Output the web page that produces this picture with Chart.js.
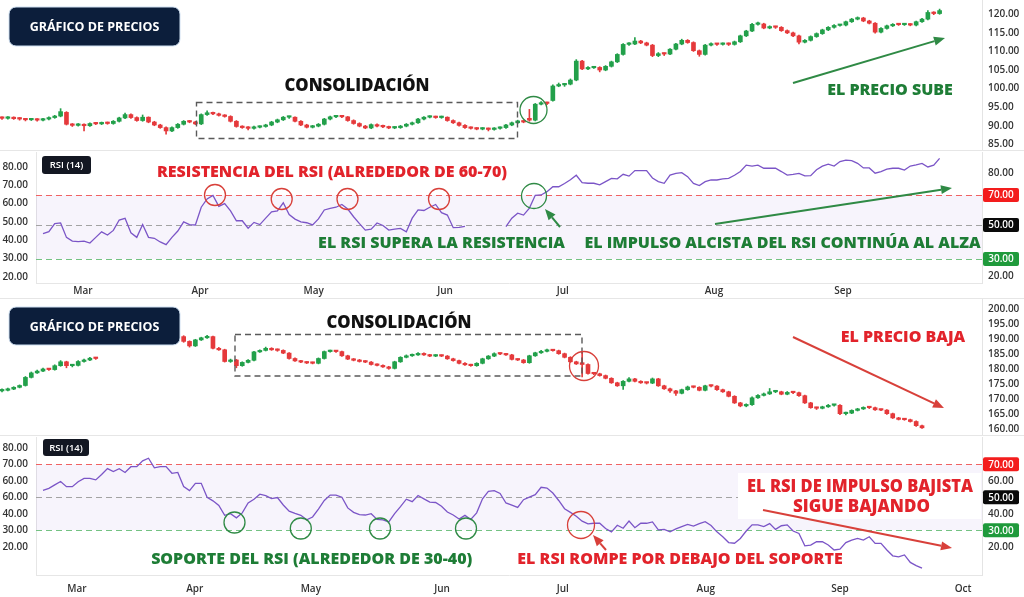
<!DOCTYPE html>
<html>
<head>
<meta charset="utf-8">
<script src="https://cdn.jsdelivr.net/npm/chart.js@4.4.1/dist/chart.umd.min.js"></script>
<style>
html, body { margin: 0; padding: 0; background: #fff; }
#wrap { position: relative; width: 1024px; height: 597px; overflow: hidden; }
canvas { position: absolute; left: 0; }
</style>
</head>
<body>
<div id="wrap">
  <canvas id="priceTop" width="1024" height="150" style="top:0px"></canvas>
  <canvas id="rsiTop" width="1024" height="148" style="top:150px"></canvas>
  <canvas id="priceBot" width="1024" height="137" style="top:298px"></canvas>
  <canvas id="rsiBot" width="1024" height="162" style="top:435px"></canvas>
</div>
<script>
// ---- data: candles are [open, high, low, close], one per trading day ----
const topCandles = [
  [92.1,92.4,91.7,92.0],[92.0,92.5,91.8,92.2],[92.2,92.4,91.7,91.9],[91.9,92.2,91.5,91.8],[91.8,92.0,91.3,91.6],
  [91.6,92.0,91.4,91.7],[91.7,91.9,91.2,91.5],[91.5,92.0,91.3,91.8],[91.8,92.4,91.6,92.2],[92.2,92.8,92.0,92.6],
  [92.6,94.6,92.4,93.8],[93.6,93.8,90.2,90.4],[90.4,90.6,89.8,90.1],[90.1,90.6,89.9,90.3],[90.3,90.5,88.6,90.0],
  [90.0,90.8,89.8,90.6],[90.6,90.9,90.3,90.5],[90.5,91.0,90.3,90.8],[90.8,91.0,90.4,90.6],[90.6,91.4,90.4,91.2],
  [91.2,92.3,91.0,92.1],[92.1,93.4,91.9,93.0],[93.0,93.2,92.0,92.2],[92.2,92.4,91.2,91.4],[91.4,92.9,91.2,92.3],
  [92.3,92.4,90.8,91.0],[91.0,91.2,90.0,90.2],[90.2,90.4,89.3,89.5],[89.5,89.7,87.7,88.6],[88.6,89.7,88.4,89.5],
  [89.5,90.6,89.3,90.4],[90.4,91.4,90.2,91.2],[91.2,91.4,90.8,91.0],[91.0,91.2,90.3,90.5],[90.5,93.2,90.3,93.0],
  [93.0,94.0,92.8,93.5],[93.5,93.7,93.0,93.2],[93.2,93.4,92.6,92.8],[92.8,93.0,92.3,92.5],[92.5,92.7,91.0,91.2],
  [91.2,91.4,89.6,89.8],[89.8,90.0,89.3,89.5],[89.5,89.8,88.9,89.3],[89.3,89.9,89.1,89.6],[89.6,90.0,89.4,89.8],
  [89.8,90.4,89.6,90.2],[90.2,91.2,90.0,91.0],[91.0,91.8,90.8,91.6],[91.6,92.5,91.4,92.3],[92.3,92.6,92.0,92.3],
  [92.3,92.4,91.0,91.2],[91.2,91.4,90.0,90.2],[90.2,90.4,89.4,89.6],[89.6,90.1,89.4,89.9],[89.9,90.6,89.7,90.4],
  [90.4,92.0,90.2,91.8],[91.8,92.6,91.6,92.4],[92.4,92.7,92.2,92.5],[92.5,92.7,92.2,92.4],[92.4,92.5,91.2,91.4],
  [91.4,91.6,90.4,90.6],[90.6,90.8,89.7,89.9],[89.9,90.1,89.2,89.4],[89.4,90.5,89.2,90.3],[90.3,90.5,89.7,89.9],
  [89.9,90.2,89.5,89.7],[89.7,89.9,89.2,89.4],[89.4,89.8,89.2,89.5],[89.5,90.1,89.3,89.9],[89.9,90.6,89.7,90.4],
  [90.4,91.0,90.2,90.8],[90.8,92.0,90.6,91.8],[91.8,92.5,91.6,92.3],[92.3,92.7,92.1,92.4],[92.4,92.6,92.0,92.2],
  [92.2,92.6,92.0,92.3],[92.3,92.4,91.2,91.4],[91.4,91.6,90.6,90.8],[90.8,91.0,89.9,90.1],[90.1,90.3,89.3,89.5],
  [89.5,89.7,89.1,89.3],[89.3,89.5,88.9,89.1],[89.1,89.5,88.9,89.2],[89.2,89.4,88.6,89.0],[89.0,89.5,88.8,89.3],
  [89.3,89.7,89.1,89.5],[89.5,90.4,89.3,90.2],[90.2,91.0,90.0,90.8],[90.8,91.5,90.6,91.3],[91.3,91.5,90.8,91.0],
  [92.0,94.4,91.2,91.5],[91.5,96.0,91.3,95.8],[95.8,96.5,95.6,96.2],[96.2,96.4,95.7,96.0],[96.8,101.0,96.6,100.7],
  [100.7,101.5,100.5,101.0],[101.0,101.4,100.6,101.2],[101.2,102.6,101.0,102.3],[102.3,107.8,102.1,107.4],[107.4,107.6,105.1,105.3],
  [105.3,105.9,105.1,105.6],[105.6,106.0,105.4,105.7],[105.7,105.9,104.5,105.0],[105.0,106.2,104.8,106.0],[106.0,107.4,105.8,107.2],
  [107.2,109.4,107.0,109.2],[109.2,112.1,109.0,111.9],[111.9,112.4,111.6,112.0],[112.0,113.7,111.8,112.8],[112.8,113.0,112.1,112.3],
  [112.3,112.5,111.5,111.7],[111.7,111.9,108.6,108.9],[108.9,109.7,108.6,109.4],[109.4,109.6,108.9,109.3],[109.3,110.8,109.1,110.6],
  [110.6,112.2,110.4,112.0],[112.0,113.3,111.8,113.0],[113.0,113.2,112.2,112.4],[112.4,112.6,110.0,110.2],[110.2,110.4,108.7,109.2],
  [109.2,111.9,109.0,111.7],[111.7,112.3,111.5,112.0],[112.0,112.2,111.6,111.9],[111.9,112.3,111.7,112.1],[112.1,112.3,111.6,111.9],
  [111.9,112.8,111.7,112.6],[112.6,114.4,112.4,114.2],[114.2,115.7,114.0,115.5],[115.5,117.6,115.3,117.3],[117.3,117.9,117.1,117.4],
  [117.4,117.6,116.1,116.3],[116.3,116.9,116.1,116.6],[116.6,116.8,116.2,116.5],[116.5,116.7,115.4,115.6],[115.6,115.8,114.8,115.0],
  [115.0,115.2,114.0,114.2],[114.2,114.4,112.0,112.5],[112.5,113.2,112.3,113.0],[113.0,114.2,112.8,114.0],[114.0,115.0,113.8,114.8],
  [114.8,116.0,114.6,115.8],[115.8,116.7,115.6,116.5],[116.5,117.2,116.3,117.0],[117.0,117.3,116.8,117.1],[117.1,118.2,116.9,118.0],
  [118.0,118.9,117.8,118.7],[118.7,119.3,118.5,119.0],[119.0,119.2,118.0,118.2],[118.2,118.4,117.4,117.6],[117.6,117.8,114.9,115.2],
  [115.2,116.4,115.0,116.2],[116.2,117.1,116.0,116.9],[116.9,117.5,116.7,117.3],[117.3,117.5,117.0,117.2],[117.2,117.5,117.0,117.3],
  [117.3,117.5,116.9,117.1],[117.1,118.2,116.9,118.0],[118.0,118.9,117.8,118.7],[118.7,121.0,118.5,120.5],[120.5,120.7,119.9,120.2],
  [120.2,121.4,120.0,121.0]
];

const botCandles = [
  [172.8,173.5,172.5,173.0],[173.0,173.7,172.8,173.4],[173.4,174.2,173.2,174.0],[174.0,174.8,173.8,174.6],[174.6,177.6,174.4,177.3],
  [177.3,179.1,177.1,178.8],[178.8,179.7,178.6,179.4],[179.4,180.4,179.2,180.1],[180.1,180.3,179.6,179.9],[179.9,181.5,179.7,181.2],
  [181.2,182.9,181.0,182.5],[182.5,182.7,180.5,181.2],[181.2,181.6,180.8,181.3],[181.3,182.9,181.1,182.6],[182.6,183.4,182.4,183.1],
  [183.1,184.0,182.9,183.7],[183.7,184.0,183.3,183.6],
  null,null,null,null,null,null,null,null,null,null,null,null,null,null,
  [190.9,191.2,189.0,189.3],[189.3,189.5,187.4,187.8],[187.8,190.0,187.6,189.8],[189.8,190.7,189.6,190.5],[190.5,191.3,190.3,190.9],
  [190.9,191.1,186.8,187.0],[187.0,187.3,186.3,186.5],[186.5,186.7,182.4,182.6],[182.6,183.4,182.3,183.1],[183.1,183.3,180.5,181.2],
  [181.2,182.5,181.0,182.3],[182.3,183.2,182.1,183.0],[183.0,186.0,182.8,185.8],[185.8,186.5,185.6,186.3],[186.3,187.4,186.1,187.0],
  [187.0,187.2,186.3,186.5],[186.5,186.8,186.0,186.3],[186.3,186.5,185.2,185.4],[185.4,185.6,183.4,183.6],[183.6,183.8,182.6,182.8],
  [182.8,183.0,182.2,182.4],[182.4,182.6,181.9,182.1],[182.1,182.4,181.8,182.0],[182.0,183.8,181.8,183.6],[183.6,186.1,183.4,185.9],
  [185.9,186.4,185.7,186.0],[186.0,186.3,185.6,185.9],[185.9,186.1,184.3,184.5],[184.5,184.7,183.2,183.4],[183.4,183.6,182.8,183.0],
  [183.0,183.3,182.4,182.6],[182.6,182.9,182.2,182.4],[182.4,182.6,181.4,181.6],[181.6,181.8,181.1,181.3],[181.3,181.5,180.6,180.8],
  [180.8,181.0,180.0,180.3],[180.3,182.7,180.1,182.5],[182.5,184.2,182.3,184.0],[184.0,184.8,183.8,184.5],[184.5,185.1,184.3,184.8],
  [184.8,185.6,184.6,185.3],[185.3,185.5,184.6,184.8],[184.8,185.0,184.2,184.4],[184.4,184.9,184.2,184.6],[184.6,184.8,184.2,184.4],
  [184.4,184.6,183.3,183.5],[183.5,183.7,182.7,182.9],[182.9,183.1,181.8,182.0],[182.0,182.2,181.3,181.5],[181.5,181.7,181.0,181.2],
  [181.2,182.2,181.0,182.0],[182.0,183.7,181.8,183.5],[183.5,184.6,183.3,184.4],[184.4,185.5,184.2,185.2],[185.2,185.5,184.9,185.1],
  [185.1,185.3,184.6,184.8],[184.8,185.0,183.1,183.3],[183.3,183.5,182.9,183.1],[183.1,183.3,182.0,182.2],[182.2,184.7,182.0,184.5],
  [184.5,185.7,184.3,185.5],[185.5,186.3,185.3,186.0],[186.0,186.7,185.8,186.4],[186.4,186.6,186.0,186.2],[186.2,186.4,185.0,185.2],
  [185.2,185.4,183.8,184.0],[184.0,184.2,182.3,182.5],[182.5,182.7,181.6,181.8],[182.2,185.9,177.5,181.6],[181.6,181.8,178.4,178.6],
  [178.6,178.9,178.2,178.5],[178.5,178.7,177.7,177.9],[177.9,178.1,176.8,177.0],[177.0,177.2,175.3,175.5],[175.5,175.7,174.3,174.5],
  [174.5,176.2,173.3,176.0],[176.0,177.2,175.8,176.8],[176.8,177.0,175.8,176.0],[176.0,176.2,175.3,175.5],[175.5,175.7,175.1,175.4],
  [175.4,177.1,175.2,176.8],[176.8,177.0,174.3,174.5],[174.5,174.7,173.3,173.5],[173.5,173.7,172.3,172.8],[172.8,173.0,171.3,172.0],
  [172.0,173.4,171.8,173.2],[173.2,174.4,173.0,174.1],[174.1,174.4,173.8,174.0],[174.0,174.2,172.8,173.0],[173.0,174.7,172.8,174.5],
  [174.5,174.7,174.1,174.4],[174.4,174.6,173.0,173.2],[173.2,173.4,172.3,172.5],[172.5,172.7,170.8,171.0],[171.0,171.2,168.6,168.8],
  [168.8,169.0,167.5,167.8],[167.8,168.5,167.5,168.2],[168.2,170.8,168.0,170.5],[170.5,171.6,170.3,171.3],[171.3,172.1,171.1,171.8],
  [171.8,173.6,171.6,172.5],[172.5,172.8,172.2,172.5],[172.5,172.7,171.5,171.7],[171.7,172.6,171.5,172.3],[172.3,172.5,171.9,172.2],
  [172.2,172.4,171.0,171.2],[171.2,171.4,168.6,168.8],[168.8,169.0,167.0,167.2],[167.2,167.4,166.6,167.0],[167.0,167.7,166.8,167.5],
  [167.5,168.3,167.3,168.0],[168.0,168.3,167.7,168.0],[168.0,168.2,164.9,165.2],[165.2,165.7,164.8,165.4],[165.4,166.5,165.2,166.3],
  [166.3,167.0,166.1,166.8],[166.8,167.5,166.6,167.3],[167.3,167.5,166.9,167.2],[167.2,167.4,166.3,166.5],[166.5,166.7,166.2,166.4],
  [166.4,166.6,165.0,165.2],[165.2,165.4,163.6,163.8],[163.8,164.0,163.1,163.3],[163.3,163.6,163.0,163.2],[163.2,163.4,162.4,162.6],
  [162.6,162.8,161.0,161.2],[161.2,161.4,160.3,160.5]
];

const topRsi = [
  null,null,null,null,null,null,null,
  43.5,44.6,49.0,49.4,41.5,39.5,39.2,39.5,38.4,41.5,44.5,42.8,45.3,51.0,51.9,44.0,41.5,48.5,41.5,41.0,
  39.0,37.5,41.5,45.0,50.0,48.5,48.3,58.0,62.5,64.5,58.5,60.0,56.0,50.6,50.6,46.5,49.7,48.5,52.0,55.5,
  56.0,60.4,54.0,51.5,50.0,49.5,48.3,51.6,56.5,57.4,58.0,59.5,57.0,52.8,49.0,45.5,46.0,49.4,48.0,45.5,
  46.0,46.4,44.6,52.0,56.5,56.2,58.0,59.5,55.0,53.7,46.8,47.0,47.5,
  null,null,null,null,null,null,
  47.4,52.0,54.7,53.7,57.5,64.5,64.7,66.5,69.2,69.2,71.0,73.0,75.5,71.5,71.1,71.1,70.2,72.0,73.8,73.5,
  76.0,75.0,78.0,78.0,78.0,74.0,72.0,71.1,75.6,76.5,76.9,74.7,71.0,69.8,72.0,73.0,72.9,73.5,73.8,75.5,
  77.5,81.0,80.5,81.0,79.3,79.3,79.3,77.5,75.6,76.0,76.5,75.1,75.3,78.5,80.5,81.6,80.5,83.0,83.8,83.5,
  82.0,79.5,79.5,76.6,77.5,78.8,79.3,79.3,78.3,80.5,81.1,82.0,80.0,81.0,84.7
];

const botRsi = [
  null,null,null,null,null,null,null,
  54.2,55.4,57.5,59.5,56.4,56.4,59.4,61.4,61.4,60.5,
  63.8,67.3,65.5,67.3,65.0,68.5,68.5,72.0,73.6,67.8,
  68.5,68.5,64.5,65.0,56.5,54.0,58.4,58.4,50.0,47.8,
  45.0,39.0,40.0,37.5,40.5,46.5,48.8,51.8,51.0,49.2,
  49.8,45.3,41.5,40.2,39.0,36.3,38.0,42.8,48.0,51.3,
  51.3,50.0,43.5,40.8,39.5,39.2,40.0,36.5,36.2,35.0,
  40.0,44.3,48.8,47.3,51.0,49.0,47.0,46.8,44.5,41.0,
  39.2,36.8,39.0,36.5,40.5,49.0,53.5,54.0,52.3,46.5,
  45.2,43.8,48.5,50.0,51.5,56.0,55.5,52.5,48.0,43.0,
  40.8,38.5,35.5,33.8,34.2,34.2,31.0,29.0,33.0,31.2,
  35.5,31.5,34.2,34.2,35.0,30.2,30.5,29.0,30.8,32.2,
  33.5,32.5,34.0,35.2,32.8,29.0,26.0,22.5,22.1,25.0,
  29.5,33.2,33.2,32.2,34.0,30.5,32.7,33.2,29.5,28.0,
  20.5,21.0,23.1,23.0,21.0,18.0,18.5,22.5,24.0,25.0,
  24.0,26.0,22.0,22.0,18.0,14.5,13.8,15.0,10.5,8.5,
  7.0
];

// axis ticks and labels
const topPriceTicks = [120, 115, 110, 105, 100, 95, 90, 85];
const botPriceTicks = [200, 195, 190, 185, 180, 175, 170, 165, 160];

const topMonthPos = [13.8, 33.8, 53.2, 75.6, 95.7, 121.5, 143.5];
const topMonthLabels = ['Mar', 'Apr', 'May', 'Jun', 'Jul', 'Aug', 'Sep'];
const botMonthPos = [12.8, 32.9, 52.7, 75.1, 95.7, 120.1, 143.0, 164.0];
const botMonthLabels = ['Mar', 'Apr', 'May', 'Jun', 'Jul', 'Aug', 'Sep', 'Oct'];

const rsiLeftPos = [80, 70, 60, 50, 40, 30, 20];
const topRsiLeftLabels = ['80.00', '70.00', '60.00', '50.00', '40.00', '30.00', '20.00'];
const botRsiLeftLabels = ['80.00', '70.00', '60.00', '60.00', '40.00', '30.00', '20.00'];

const topRsiRightPos = [76.7, 64.7, 48.3, 29.7, 20.4];
const topRsiRightLabels = ['80.00', '70.00', '50.00', '30.00', '20.00'];
const botRsiRightPos = [70, 60, 50, 40, 30, 20];
const botRsiRightLabels = ['70.00', '60.00', '50.00', '40.00', '30.00', '20.00'];

const topLevels = [64.7, 48.3, 29.7];
const botLevels = [70, 50, 30];

// ---- styling / layout ----
const FONT = '"Open Sans", "DejaVu Sans", sans-serif';
const UP = '#22a04a', DOWN = '#e5393b';
const GREEN = '#1e7d36', RED = '#e2232b', GREEN_LINE = '#2f8a45', RED_LINE = '#d8403a';
const BADGE_RED = '#f31d1d', BADGE_BLACK = '#0a0a0a', BADGE_GREEN = '#1f9a3b';
const PX0 = 2, STEP = 5.86;
const X_MIN_PRICE = (0 - PX0) / STEP, X_MAX = (982 - PX0) / STEP, X_MIN_RSI = (36 - PX0) / STEP;
const LEVEL_COLORS = ['#f06262', '#a3a3a3', '#74c283'];
const tickFont = { family: FONT, size: 10, weight: '600' };

function candleSets(candles) {
  const wicks = [], bodies = [], colors = [];
  candles.forEach((c, i) => {
    if (!c) return;
    wicks.push({ x: i, y: [c[2], c[1]] });
    bodies.push({ x: i, y: [c[0], c[3]] });
    colors.push(c[3] >= c[0] ? UP : DOWN);
  });
  return [
    { data: wicks, backgroundColor: colors, barThickness: 1, grouped: false, order: 2 },
    { data: bodies, backgroundColor: colors, barThickness: 4, minBarLength: 1.5, grouped: false, order: 1 }
  ];
}

function noPad(s) { s.paddingTop = 0; s.paddingBottom = 0; s.paddingLeft = 0; s.paddingRight = 0; }

function drawArrow(ctx, it) {
  const ang = Math.atan2(it.y2 - it.y1, it.x2 - it.x1);
  const len = 11, half = 4.5;
  const bx = it.x2 - Math.cos(ang) * len, by = it.y2 - Math.sin(ang) * len;
  ctx.strokeStyle = it.color; ctx.fillStyle = it.color; ctx.lineWidth = 2;
  ctx.beginPath(); ctx.moveTo(it.x1, it.y1); ctx.lineTo(bx, by); ctx.stroke();
  ctx.beginPath();
  ctx.moveTo(it.x2, it.y2);
  ctx.lineTo(bx + Math.sin(ang) * half, by - Math.cos(ang) * half);
  ctx.lineTo(bx - Math.sin(ang) * half, by + Math.cos(ang) * half);
  ctx.closePath(); ctx.fill();
}

function drawItem(ctx, it) {
  ctx.save();
  if (it.t === 'hline') {
    ctx.strokeStyle = '#e6e6e6'; ctx.lineWidth = 1;
    ctx.beginPath(); ctx.moveTo(0, it.y); ctx.lineTo(1024, it.y); ctx.stroke();
  } else if (it.t === 'rect') {
    ctx.fillStyle = it.color; ctx.fillRect(it.x, it.y, it.w, it.h);
  } else if (it.t === 'box') {
    ctx.strokeStyle = '#5a5a5a'; ctx.lineWidth = 1.4; ctx.setLineDash([6, 4]);
    ctx.strokeRect(it.x, it.y, it.w, it.h);
  } else if (it.t === 'circle') {
    ctx.strokeStyle = it.color; ctx.lineWidth = 1.3;
    ctx.beginPath(); ctx.arc(it.x, it.y, it.r, 0, Math.PI * 2); ctx.stroke();
  } else if (it.t === 'arrow') {
    drawArrow(ctx, it);
  } else if (it.t === 'text') {
    ctx.fillStyle = it.color; ctx.font = `800 ${it.size}px ${FONT}`;
    ctx.textAlign = 'center'; ctx.textBaseline = 'middle';
    ctx.fillText(it.text, it.x, it.y, it.w);
  } else if (it.t === 'badge') {
    ctx.fillStyle = '#0c1e3b'; ctx.strokeStyle = '#cfe0f2'; ctx.lineWidth = 1;
    ctx.beginPath(); ctx.roundRect(it.x, it.y, it.w, it.h, 7); ctx.fill(); ctx.stroke();
    ctx.fillStyle = '#fff'; ctx.font = `700 12.5px ${FONT}`;
    ctx.textAlign = 'center'; ctx.textBaseline = 'middle';
    ctx.fillText(it.text, it.x + it.w / 2, it.y + it.h / 2 + 1, 134);
  } else if (it.t === 'tag') {
    ctx.fillStyle = '#131722';
    ctx.beginPath(); ctx.roundRect(it.x, it.y, it.w, it.h, 3); ctx.fill();
    ctx.fillStyle = '#fff'; ctx.font = `600 9.5px ${FONT}`;
    ctx.textAlign = 'center'; ctx.textBaseline = 'middle';
    ctx.fillText(it.text, it.x + it.w / 2, it.y + it.h / 2 + 0.5);
  }
  ctx.restore();
}

function overlay(top, items) {
  return {
    id: 'overlay',
    afterDraw(chart) {
      const ctx = chart.ctx;
      ctx.save();
      ctx.translate(0, -top);
      items.forEach(it => drawItem(ctx, it));
      ctx.restore();
    }
  };
}

function levelPlugin(levels, ends) {
  return {
    id: 'levels',
    beforeDatasetsDraw(chart) {
      const { ctx, chartArea: a } = chart;
      const y = chart.scales.y;
      const y1 = y.getPixelForValue(levels[0]), y2 = y.getPixelForValue(levels[2]);
      ctx.save();
      ctx.fillStyle = 'rgba(140, 100, 210, 0.07)';
      ctx.fillRect(a.left, y1, a.right - a.left, y2 - y1);
      ctx.lineWidth = 1;
      ctx.setLineDash([6, 4]);
      levels.forEach((v, k) => {
        const py = Math.round(y.getPixelForValue(v)) + 0.5;
        ctx.strokeStyle = LEVEL_COLORS[k];
        ctx.beginPath(); ctx.moveTo(a.left, py); ctx.lineTo(ends[k] || a.right, py); ctx.stroke();
      });
      ctx.restore();
    }
  };
}

function badgePlugin(pos, labels, fills) {
  return {
    id: 'badges',
    afterDraw(chart) {
      const s = chart.scales.yr, ctx = chart.ctx;
      ctx.save();
      pos.forEach((v, k) => {
        if (!fills[k]) return;
        const py = s.getPixelForValue(v);
        ctx.fillStyle = fills[k];
        ctx.beginPath(); ctx.roundRect(s.left + 1, py - 7, 36, 14, 2); ctx.fill();
        ctx.fillStyle = '#fff'; ctx.font = `600 10px ${FONT}`;
        ctx.textAlign = 'center'; ctx.textBaseline = 'middle';
        ctx.fillText(labels[k], s.left + 19, py + 0.5);
      });
      ctx.restore();
    }
  };
}

function priceChart(id, candles, yMin, yMax, ticks, top, items) {
  return new Chart(document.getElementById(id), {
    type: 'bar',
    data: { datasets: candleSets(candles) },
    options: {
      responsive: false,
      animation: false,
      layout: { padding: { top: top === 298 ? 1 : 0 } },
      plugins: { legend: { display: false }, tooltip: { enabled: false } },
      scales: {
        x: { type: 'linear', min: X_MIN_PRICE, max: X_MAX, offset: false, display: false },
        y: {
          position: 'right', min: yMin, max: yMax,
          afterBuildTicks: s => { s.ticks = ticks.map(v => ({ value: v })); },
          afterFit: s => { s.width = 42; noPad(s); },
          grid: { display: false, drawTicks: false },
          border: { color: '#e4e4e4' },
          ticks: { padding: 6, color: '#333', font: tickFont, autoSkip: false, callback: v => v.toFixed(2) }
        }
      }
    },
    plugins: [overlay(top, items)]
  });
}

function rsiChart(id, cfg) {
  return new Chart(document.getElementById(id), {
    type: 'line',
    data: {
      datasets: [{
        data: cfg.rsi.map((v, i) => ({ x: i, y: v })),
        borderColor: '#7b55c7', borderWidth: 1.3, pointRadius: 0, tension: 0, spanGaps: false
      }]
    },
    options: {
      responsive: false,
      animation: false,
      layout: { padding: { top: 2 } },
      plugins: { legend: { display: false }, tooltip: { enabled: false } },
      scales: {
        x: {
          type: 'linear', min: X_MIN_RSI, max: X_MAX, offset: false,
          afterBuildTicks: s => { s.ticks = cfg.monthPos.map(v => ({ value: v })); },
          afterFit: s => { s.height = cfg.xh; noPad(s); },
          grid: { display: false, drawTicks: false },
          border: { color: '#e6e6e6' },
          ticks: { padding: cfg.xpad, color: '#333', font: tickFont, autoSkip: false, maxRotation: 0,
                   callback: (v, i) => cfg.monthLabels[i] }
        },
        y: {
          position: 'left', min: cfg.min, max: cfg.max,
          afterBuildTicks: s => { s.ticks = rsiLeftPos.map(v => ({ value: v })); },
          afterFit: s => { s.width = 36; noPad(s); },
          grid: { display: false, drawTicks: false },
          border: { color: '#e6e6e6' },
          ticks: { padding: 8, color: '#333', font: tickFont, autoSkip: false, callback: (v, i) => cfg.leftLabels[i] }
        },
        yr: {
          position: 'right', min: cfg.min, max: cfg.max,
          afterBuildTicks: s => { s.ticks = cfg.rightPos.map(v => ({ value: v })); },
          afterFit: s => { s.width = 42; noPad(s); },
          grid: { display: false, drawTicks: false },
          border: { color: '#e4e4e4' },
          ticks: { padding: 6, color: '#333', font: tickFont, autoSkip: false, callback: (v, i) => cfg.rightLabels[i] }
        }
      }
    },
    plugins: [levelPlugin(cfg.levels, cfg.levelEnds), badgePlugin(cfg.rightPos, cfg.rightLabels, cfg.fills), overlay(cfg.top, cfg.items)]
  });
}

// ---- top half: price rising out of consolidation ----
priceChart('priceTop', topCandles, 83.47, 123.85, topPriceTicks, 0, [
  { t: 'box', x: 196.5, y: 102.5, w: 321, h: 36 },
  { t: 'text', text: 'CONSOLIDACIÓN', x: 357, y: 86, size: 17, w: 145, color: '#111' },
  { t: 'circle', x: 533.5, y: 110, r: 13.5, color: GREEN_LINE },
  { t: 'arrow', x1: 793, y1: 83, x2: 945, y2: 38, color: GREEN_LINE },
  { t: 'text', text: 'EL PRECIO SUBE', x: 890, y: 90, size: 16, w: 128, color: GREEN },
  { t: 'badge', x: 9, y: 7, w: 171, h: 39, text: 'GRÁFICO DE PRECIOS' }
]);

rsiChart('rsiTop', {
  rsi: topRsi, min: 16.55, max: 88.2, top: 150, xh: 15, xpad: 2,
  monthPos: topMonthPos, monthLabels: topMonthLabels,
  leftLabels: topRsiLeftLabels,
  rightPos: topRsiRightPos, rightLabels: topRsiRightLabels,
  fills: [null, BADGE_RED, BADGE_BLACK, BADGE_GREEN, null],
  levels: topLevels, levelEnds: [null, null, null],
  items: [
    { t: 'hline', y: 150.5 },
    { t: 'tag', x: 42, y: 156, w: 49, h: 18, text: 'RSI (14)' },
    { t: 'text', text: 'RESISTENCIA DEL RSI (ALREDEDOR DE 60-70)', x: 332, y: 172, size: 16, w: 371, color: RED },
    { t: 'circle', x: 215, y: 195, r: 10.5, color: RED_LINE },
    { t: 'circle', x: 281.7, y: 199, r: 10.5, color: RED_LINE },
    { t: 'circle', x: 347.5, y: 199, r: 10.5, color: RED_LINE },
    { t: 'circle', x: 439, y: 199, r: 10.5, color: RED_LINE },
    { t: 'circle', x: 534, y: 196, r: 12.5, color: GREEN_LINE },
    { t: 'arrow', x1: 560, y1: 227, x2: 545, y2: 209, color: GREEN_LINE },
    { t: 'arrow', x1: 715, y1: 224, x2: 952, y2: 188, color: GREEN_LINE },
    { t: 'text', text: 'EL RSI SUPERA LA RESISTENCIA', x: 441.5, y: 243, size: 16, w: 253, color: GREEN },
    { t: 'text', text: 'EL IMPULSO ALCISTA DEL RSI CONTINÚA AL ALZA', x: 782.5, y: 243, size: 16, w: 400, color: GREEN }
  ]
});

// ---- bottom half: price breaking down ----
priceChart('priceBot', botCandles, 158.1, 203.43, botPriceTicks, 298, [
  { t: 'hline', y: 298.5 },
  { t: 'box', x: 235, y: 334.5, w: 347, h: 41.5 },
  { t: 'text', text: 'CONSOLIDACIÓN', x: 399, y: 323, size: 17, w: 145, color: '#111' },
  { t: 'circle', x: 584, y: 366, r: 14.5, color: RED_LINE },
  { t: 'arrow', x1: 793, y1: 337, x2: 944, y2: 408, color: RED_LINE },
  { t: 'text', text: 'EL PRECIO BAJA', x: 903, y: 337.5, size: 16, w: 133, color: RED },
  { t: 'badge', x: 9, y: 307, w: 171, h: 38, text: 'GRÁFICO DE PRECIOS' }
]);

rsiChart('rsiBot', {
  rsi: botRsi, min: 2.85, max: 86.48, top: 435, xh: 22, xpad: 8,
  monthPos: botMonthPos, monthLabels: botMonthLabels,
  leftLabels: botRsiLeftLabels,
  rightPos: botRsiRightPos, rightLabels: botRsiRightLabels,
  fills: [BADGE_RED, null, BADGE_BLACK, null, BADGE_GREEN, null],
  levels: botLevels, levelEnds: [null, 765, null],
  items: [
    { t: 'hline', y: 435.5 },
    { t: 'rect', x: 738, y: 473, w: 243, h: 46, color: '#fff' },
    { t: 'tag', x: 43, y: 439, w: 46, h: 17, text: 'RSI (14)' },
    { t: 'circle', x: 234.5, y: 522.5, r: 10.5, color: GREEN_LINE },
    { t: 'circle', x: 300.8, y: 528.5, r: 10.5, color: GREEN_LINE },
    { t: 'circle', x: 380, y: 528.5, r: 10.5, color: GREEN_LINE },
    { t: 'circle', x: 466, y: 528.5, r: 10.5, color: GREEN_LINE },
    { t: 'circle', x: 581, y: 525, r: 13.5, color: RED_LINE },
    { t: 'arrow', x1: 606, y1: 550, x2: 593, y2: 535, color: RED_LINE },
    { t: 'arrow', x1: 763, y1: 510, x2: 952, y2: 548, color: RED_LINE },
    { t: 'text', text: 'EL RSI DE IMPULSO BAJISTA', x: 860, y: 487, size: 18, w: 226, color: RED },
    { t: 'text', text: 'SIGUE BAJANDO', x: 861.5, y: 507, size: 18, w: 137, color: RED },
    { t: 'text', text: 'SOPORTE DEL RSI (ALREDEDOR DE 30-40)', x: 311.7, y: 559, size: 16, w: 343, color: GREEN },
    { t: 'text', text: 'EL RSI ROMPE POR DEBAJO DEL SOPORTE', x: 680, y: 559, size: 16, w: 337, color: RED }
  ]
});
</script>
</body>
</html>
